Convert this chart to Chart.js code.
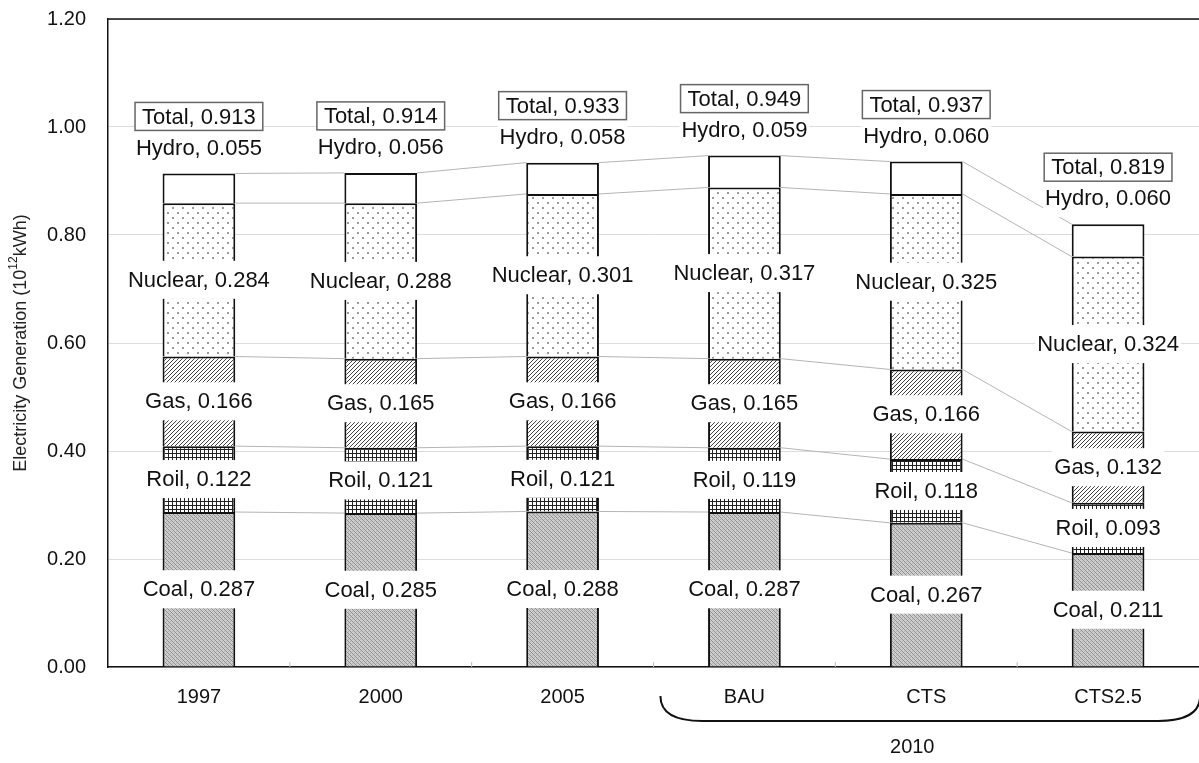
<!DOCTYPE html>
<html>
<head>
<meta charset="utf-8">
<script src="https://cdn.jsdelivr.net/npm/chart.js@4.4.0/dist/chart.umd.min.js"></script>
<style>
  html, body { margin: 0; padding: 0; background: #fff; overflow: hidden; }
  #wrap { width: 1199px; height: 763px; overflow: hidden; position: relative; }
  #genChart { position: absolute; left: 0; top: -15px; }
</style>
</head>
<body>
<div id="wrap"><canvas id="genChart" width="1199" height="778"></canvas></div>
<script>
const categories = ['1997', '2000', '2005', 'BAU', 'CTS', 'CTS2.5'];
const sources = ['Coal', 'Roil', 'Gas', 'Nuclear', 'Hydro'];
const coal    = [0.287, 0.285, 0.288, 0.287, 0.267, 0.211];
const roil    = [0.122, 0.121, 0.121, 0.119, 0.118, 0.093];
const gas     = [0.166, 0.165, 0.166, 0.165, 0.166, 0.132];
const nuclear = [0.284, 0.288, 0.301, 0.317, 0.325, 0.324];
const hydro   = [0.055, 0.056, 0.058, 0.059, 0.060, 0.060];
const totals  = [0.913, 0.914, 0.933, 0.949, 0.937, 0.819];
const yTicks  = [0, 0.2, 0.4, 0.6, 0.8, 1.0, 1.2];

const FONT = '"Liberation Sans", Arial, sans-serif';

function makeTile(w, h, draw) {
  const c = document.createElement('canvas');
  c.width = w; c.height = h;
  const g = c.getContext('2d');
  draw(g);
  return document.getElementById('genChart').getContext('2d').createPattern(c, 'repeat');
}

// fill patterns, one per source
const coalPattern = makeTile(4, 4, g => {
  g.fillStyle = '#cfcfcf'; g.fillRect(0, 0, 4, 4);
  g.fillStyle = '#8e8e8e';
  g.fillRect(0, 0, 1, 1); g.fillRect(1, 1, 1, 1); g.fillRect(2, 2, 1, 1); g.fillRect(3, 3, 1, 1);
  g.fillStyle = '#b0b0b0';
  g.fillRect(2, 0, 1, 1); g.fillRect(0, 2, 1, 1);
});
const roilPattern = makeTile(4, 4, g => {
  g.fillStyle = '#fff'; g.fillRect(0, 0, 4, 4);
  g.fillStyle = '#222';
  g.fillRect(0, 0, 4, 1); g.fillRect(0, 0, 1, 4);
});
const gasPattern = makeTile(4, 4, g => {
  g.fillStyle = '#fff'; g.fillRect(0, 0, 4, 4);
  g.strokeStyle = '#444'; g.lineWidth = 1;
  g.beginPath();
  g.moveTo(0, 4); g.lineTo(4, 0);
  g.moveTo(-1, 1); g.lineTo(1, -1);
  g.moveTo(3, 5); g.lineTo(5, 3);
  g.stroke();
});
const nuclearPattern = makeTile(10, 10, g => {
  g.fillStyle = '#fff'; g.fillRect(0, 0, 10, 10);
  g.fillStyle = '#999';
  g.fillRect(2, 2, 2, 2); g.fillRect(7, 7, 2, 2);
});
const fills = [coalPattern, roilPattern, gasPattern, nuclearPattern, '#ffffff'];
const seriesData = [coal, roil, gas, nuclear, hydro];

function labelBox(ctx, text, x, y) {
  ctx.font = '22px ' + FONT;
  const w = ctx.measureText(text).width + 4;
  ctx.fillStyle = '#fff';
  ctx.fillRect(x - w / 2, y - 19, w, 38);
  ctx.fillStyle = '#111';
  ctx.textAlign = 'center';
  ctx.textBaseline = 'middle';
  ctx.fillText(text, x, y + 1);
}

const decorPlugin = {
  id: 'decor',
  beforeDatasetsDraw(chart) {
    const ctx = chart.ctx;
    ctx.save();
    ctx.strokeStyle = '#b4b4b4';
    ctx.lineWidth = 1;
    sources.forEach((s, i) => {
      const bars = chart.getDatasetMeta(i).data;
      for (let j = 0; j < bars.length - 1; j++) {
        const a = bars[j], b = bars[j + 1];
        ctx.beginPath();
        ctx.moveTo(a.x + a.width / 2, a.y);
        ctx.lineTo(b.x - b.width / 2, b.y);
        ctx.stroke();
      }
    });
    ctx.restore();
  },
  afterDatasetsDraw(chart) {
    const ctx = chart.ctx;
    const area = chart.chartArea;
    ctx.save();
    // segment labels
    sources.forEach((s, i) => {
      chart.getDatasetMeta(i).data.forEach((bar, j) => {
        const text = s + ', ' + seriesData[i][j].toFixed(3);
        if (s === 'Hydro') {
          labelBox(ctx, text, bar.x, bar.y - 26);
        } else {
          labelBox(ctx, text, bar.x, (bar.y + bar.base) / 2);
        }
      });
    });
    // total boxes
    chart.getDatasetMeta(4).data.forEach((bar, j) => {
      const text = 'Total, ' + totals[j].toFixed(3);
      ctx.font = '22px ' + FONT;
      const w = ctx.measureText(text).width + 14;
      const cy = bar.y - 57;
      ctx.fillStyle = '#fff';
      ctx.fillRect(bar.x - w / 2, cy - 14, w, 28);
      ctx.strokeStyle = '#666';
      ctx.lineWidth = 1.5;
      ctx.strokeRect(bar.x - w / 2, cy - 14, w, 28);
      ctx.fillStyle = '#111';
      ctx.textAlign = 'center';
      ctx.textBaseline = 'middle';
      ctx.fillText(text, bar.x, cy + 1);
    });
    // top frame line
    ctx.strokeStyle = '#111';
    ctx.lineWidth = 1.5;
    ctx.beginPath();
    ctx.moveTo(area.left, area.top);
    ctx.lineTo(area.right, area.top);
    ctx.stroke();
    // small ticks between categories
    const xs = chart.scales.x;
    ctx.strokeStyle = '#bbb';
    ctx.lineWidth = 1;
    for (let j = 1; j < categories.length; j++) {
      const bx = (xs.getPixelForValue(j - 1) + xs.getPixelForValue(j)) / 2;
      ctx.beginPath();
      ctx.moveTo(bx, area.bottom);
      ctx.lineTo(bx, area.bottom - 5);
      ctx.stroke();
    }
    // brace under the 2010 cases
    const b0 = area.bottom;
    const bLeft = xs.getPixelForValue(3) - 84;
    const bRight = xs.getPixelForValue(5) + 92;
    ctx.strokeStyle = '#111';
    ctx.lineWidth = 2;
    ctx.beginPath();
    ctx.moveTo(bLeft, b0 + 29);
    ctx.bezierCurveTo(bLeft, b0 + 45, bLeft + 14, b0 + 54, bLeft + 42, b0 + 54);
    ctx.lineTo(bRight - 42, b0 + 54);
    ctx.bezierCurveTo(bRight - 14, b0 + 54, bRight, b0 + 45, bRight, b0 + 29);
    ctx.stroke();
    ctx.fillStyle = '#111';
    ctx.font = '20px ' + FONT;
    ctx.textAlign = 'center';
    ctx.textBaseline = 'middle';
    ctx.fillText('2010', (xs.getPixelForValue(3) + xs.getPixelForValue(5)) / 2 - 14, b0 + 80);
    // y axis title with superscript
    ctx.translate(21, (area.top + area.bottom) / 2);
    ctx.rotate(-Math.PI / 2);
    const p1 = 'Electricity Generation (10', p2 = '12', p3 = 'kWh)';
    ctx.font = '18px ' + FONT;
    const w1 = ctx.measureText(p1).width, w3 = ctx.measureText(p3).width;
    ctx.font = '12px ' + FONT;
    const w2 = ctx.measureText(p2).width;
    let x0 = -(w1 + w2 + w3) / 2;
    ctx.textAlign = 'left';
    ctx.fillStyle = '#222';
    ctx.font = '18px ' + FONT;
    ctx.fillText(p1, x0, 0);
    ctx.font = '12px ' + FONT;
    ctx.fillText(p2, x0 + w1, -7);
    ctx.font = '18px ' + FONT;
    ctx.fillText(p3, x0 + w1 + w2, 0);
    ctx.restore();
  }
};

new Chart(document.getElementById('genChart'), {
  type: 'bar',
  data: {
    labels: categories,
    datasets: sources.map((s, i) => ({
      label: s,
      data: seriesData[i],
      backgroundColor: fills[i],
      borderColor: '#111',
      borderWidth: { top: 2, left: 2, right: 2, bottom: 0 },
      borderSkipped: false,
      categoryPercentage: 1,
      barPercentage: 0.4
    }))
  },
  options: {
    responsive: false,
    animation: false,
    layout: { padding: { top: 2, right: 0, left: 0, bottom: 0 } },
    plugins: { legend: { display: false }, tooltip: { enabled: false } },
    scales: {
      x: {
        stacked: true,
        grid: { display: false, drawTicks: false },
        border: { color: '#111', width: 1.5 },
        ticks: { color: '#111', font: { family: FONT, size: 20 }, padding: 18, maxRotation: 0 },
        afterFit: s => { s.height = 96; }
      },
      y: {
        stacked: true,
        min: yTicks[0],
        max: yTicks[yTicks.length - 1],
        afterBuildTicks: s => { s.ticks = yTicks.map(v => ({ value: v })); },
        grid: { color: '#dcdcdc', drawTicks: false },
        border: { color: '#111', width: 1.5 },
        ticks: { color: '#111', font: { family: FONT, size: 20 }, padding: 22, callback: v => v.toFixed(2) },
        afterFit: s => { s.width = 108; }
      }
    }
  },
  plugins: [decorPlugin]
});
</script>
</body>
</html>
